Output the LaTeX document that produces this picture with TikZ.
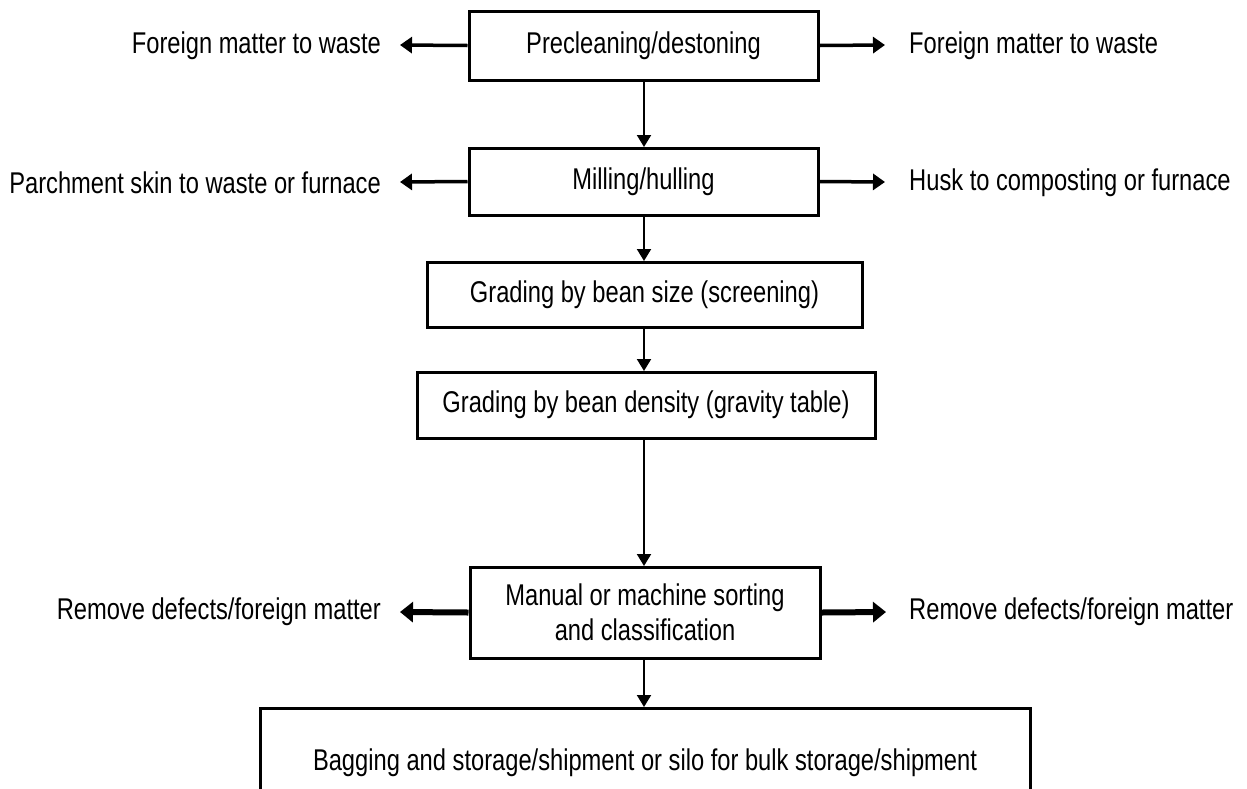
\documentclass[tikz,border=0pt]{standalone}
\usepackage{fontspec}
\setmainfont[FakeStretch=0.79]{Liberation Sans}
\usetikzlibrary{arrows.meta}
\tikzset{
  box/.style={draw=black, line width=3pt, fill=white, inner sep=0pt, align=center, font=\fontsize{30}{35}\selectfont},
  lbl/.style={inner sep=0pt, font=\fontsize{30}{35}\selectfont},
  flow/.style={line width=2pt, -{Triangle[length=12pt,width=14pt]}},
  side flow/.style={line width=3.5pt, -{Triangle[length=12pt,width=16pt]}},
  thick flow/.style={line width=6pt, -{Triangle[length=13pt,width=20pt]}},
}
\begin{document}
\begin{tikzpicture}[x=1pt,y=-1pt]
\path[use as bounding box, clip] (0,0) rectangle (1247,788);
\fill[white] (0,0) rectangle (1247,788);
% boxes
\node[box, minimum width=349pt, minimum height=69pt] (b1) at (643.5,45.5) {Precleaning/destoning};
\node[box, minimum width=349pt, minimum height=67pt] (b2) at (643.5,181.5) {Milling/hulling};
\node[box, minimum width=435pt, minimum height=65pt] (b3) at (644.5,294.5) {Grading by bean size (screening)};
\node[box, minimum width=458pt, minimum height=66pt] (b4) at (646,405) {Grading by bean density (gravity table)};
\node[box, minimum width=350pt, minimum height=91pt] (b5) at (645,612.5) {Manual or machine sorting\\and classification};
\node[box, minimum width=770pt, minimum height=110pt] (b6) at (645,763) {\raisebox{5pt}{Bagging and storage/shipment or silo for bulk storage/shipment}};
% side labels
\node[lbl, anchor=east] (l1) at (381,46) {Foreign matter to waste};
\node[lbl, anchor=west] (r1) at (909,46) {Foreign matter to waste};
\node[lbl, anchor=east] (l2) at (381,183) {Parchment skin to waste or furnace};
\node[lbl, anchor=west] (r2) at (909,183) {Husk to composting or furnace};
\node[lbl, anchor=east] (l5) at (381,612) {Remove defects/foreign matter};
\node[lbl, anchor=west] (r5) at (909,612) {Remove defects/foreign matter};
\coordinate (tl1) at (400,45);
\coordinate (tr1) at (885,45);
\coordinate (tl2) at (400,182);
\coordinate (tr2) at (885,182);
\coordinate (tl5) at (400,612);
\coordinate (tr5) at (886,612);
% vertical flow
\draw[flow] (b1.south -| 644,0) -- (644,147);
\draw[flow] (b2.south -| 644,0) -- (644,261);
\draw[flow] (b3.south -| 644,0) -- (644,371);
\draw[flow] (b4.south -| 644,0) -- (644,566);
\draw[flow] (b5.south -| 644,0) -- (644,707);
% side arrows
\draw[side flow] (b1.west) -- (tl1);
\draw[side flow] (b1.east) -- (tr1);
\draw[side flow] (b2.west) -- (tl2);
\draw[side flow] (b2.east) -- (tr2);
\draw[thick flow] (b5.west) -- (tl5);
\draw[thick flow] (b5.east) -- (tr5);
\end{tikzpicture}
\end{document}
